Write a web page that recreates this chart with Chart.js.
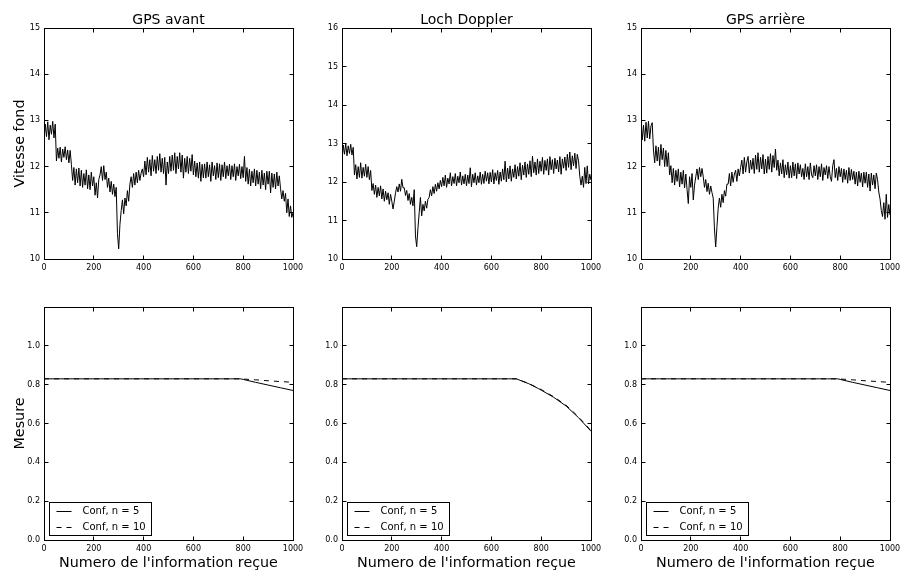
<!DOCTYPE html>
<html>
<head>
<meta charset="utf-8">
<script src="https://cdn.jsdelivr.net/npm/chart.js@4.4.1/dist/chart.umd.min.js"></script>
<style>
  html, body { margin: 0; padding: 0; background: #fff; }
  #wrap { position: relative; width: 906px; height: 571px; overflow: hidden; }
  canvas { position: absolute; }
</style>
</head>
<body>
<div id="wrap">
  <canvas id="top0"></canvas>
  <canvas id="top1"></canvas>
  <canvas id="top2"></canvas>
  <canvas id="bot0"></canvas>
  <canvas id="bot1"></canvas>
  <canvas id="bot2"></canvas>
</div>
<script>
// Titles & axis labels
const panelTitles = ["GPS avant", "Loch Doppler", "GPS arrière"];
const speedLabel = "Vitesse fond";
const mesureLabel = "Mesure";
const xLabel = "Numero de l'information reçue";
const confLabels = ["Conf, n = 5", "Conf, n = 10"];

// Tick values
const xTicks = [0, 200, 400, 600, 800, 1000];
const speedTicksGps = [10, 11, 12, 13, 14, 15];
const speedTicksLoch = [10, 11, 12, 13, 14, 15, 16];
const mesureTicks = [0.0, 0.2, 0.4, 0.6, 0.8, 1.0];

// Speed samples, one every 5 messages (0..1000)
const sampleIdx = Array.from({ length: 201 }, (_, i) => i * 5);

const speedAvant = [
  12.60, 12.92, 12.65, 12.97, 12.58, 12.90, 12.70, 12.98, 12.62, 12.92,
  12.12, 12.40, 12.18, 12.42, 12.10, 12.38, 12.20, 12.43, 12.15, 12.36,
  12.08, 12.35, 12.05, 11.70, 11.98, 11.60, 11.95, 11.65, 11.97, 11.58,
  11.92, 11.55, 11.85, 11.60, 11.93, 11.52, 11.82, 11.50, 11.88, 11.58,
  11.78, 11.38, 11.65, 11.32, 11.72, 11.82, 12.00, 11.70, 12.02, 11.72,
  11.88, 11.55, 11.75, 11.45, 11.68, 11.40, 11.62, 11.35, 11.55, 10.55,
  10.22, 10.75, 11.05, 11.28, 10.98, 11.32, 11.15, 11.48, 11.25, 11.62,
  11.78, 11.55, 11.85, 11.60, 11.88, 11.65, 11.92, 11.70, 11.86, 11.95,
  11.78, 12.12, 11.82, 12.20, 11.88, 12.15, 11.80, 12.24, 11.90, 12.15,
  11.85, 12.22, 11.92, 12.28, 11.88, 12.18, 11.85, 12.20, 11.60, 12.10,
  11.85, 12.22, 11.90, 12.25, 11.92, 12.30, 11.85, 12.22, 11.95, 12.30,
  11.88, 12.25, 11.75, 12.18, 11.88, 12.22, 11.85, 12.18, 11.90, 12.26,
  11.82, 12.12, 11.78, 12.08, 11.75, 12.10, 11.68, 12.05, 11.76, 12.06,
  11.75, 12.10, 11.78, 12.04, 11.68, 12.10, 11.80, 12.02, 11.72, 12.08,
  11.76, 12.06, 11.70, 12.04, 11.78, 12.10, 11.74, 12.02, 11.80, 12.05,
  11.72, 12.02, 11.78, 12.06, 11.70, 12.00, 11.80, 12.05, 11.74, 12.00,
  11.76, 12.22, 11.68, 11.98, 11.62, 11.94, 11.58, 11.90, 11.65, 11.95,
  11.58, 11.92, 11.62, 11.88, 11.52, 11.92, 11.60, 11.86, 11.50, 11.90,
  11.62, 11.90, 11.43, 11.86, 11.55, 11.84, 11.52, 11.88, 11.58, 11.80,
  11.52, 11.30, 11.48, 11.25, 11.42, 11.00, 11.30, 10.92, 11.15, 10.90,
  11.00
];

const speedLoch = [
  12.55, 12.96, 12.72, 13.00, 12.68, 12.94, 12.74, 12.98, 12.70, 12.90,
  12.18, 12.45, 12.08, 12.40, 12.12, 12.50, 12.10, 12.38, 12.15, 12.46,
  12.12, 12.40, 12.06, 12.30, 11.78, 11.96, 11.68, 11.92, 11.60, 11.86,
  11.64, 11.90, 11.56, 11.82, 11.50, 11.76, 11.54, 11.72, 11.42, 11.68,
  11.50, 11.30, 11.50, 11.72, 11.88, 11.74, 11.95, 11.76, 12.07, 11.85,
  11.85, 11.65, 11.78, 11.52, 11.70, 11.42, 11.60, 11.38, 11.80, 10.60,
  10.32, 10.80, 11.20, 11.60, 11.12, 11.42, 11.25, 11.50, 11.32, 11.55,
  11.60, 11.80, 11.64, 11.88, 11.70, 11.94, 11.76, 11.98, 11.82, 12.04,
  11.88, 12.12, 11.90, 12.18, 11.86, 12.10, 11.95, 12.24, 11.90, 12.14,
  11.96, 12.22, 11.90, 12.15, 11.98, 12.26, 11.92, 12.16, 11.95, 12.20,
  11.90, 12.18, 11.96, 12.37, 11.88, 12.20, 11.98, 12.24, 11.92, 12.16,
  11.98, 12.26, 11.94, 12.20, 11.96, 12.28, 12.02, 12.24, 11.95, 12.25,
  12.00, 12.32, 11.95, 12.24, 12.04, 12.30, 11.94, 12.26, 12.02, 12.34,
  12.06, 12.54, 12.00, 12.36, 12.08, 12.42, 12.02, 12.34, 12.12, 12.45,
  12.08, 12.40, 12.15, 12.50, 12.06, 12.44, 12.18, 12.52, 12.12, 12.47,
  12.20, 12.55, 12.14, 12.67, 12.24, 12.52, 12.18, 12.60, 12.22, 12.54,
  12.28, 12.64, 12.20, 12.56, 12.30, 12.60, 12.18, 12.66, 12.32, 12.58,
  12.22, 12.62, 12.34, 12.57, 12.26, 12.66, 12.20, 12.60, 12.36, 12.65,
  12.30, 12.72, 12.38, 12.78, 12.32, 12.68, 12.42, 12.75, 12.35, 12.72,
  12.55, 12.15, 11.92, 12.15, 11.86, 12.38, 11.96, 12.42, 11.95, 12.20,
  12.05
];

const speedArriere = [
  13.00, 12.58, 12.90, 12.55, 12.96, 12.62, 12.98, 12.60, 12.88, 12.95,
  12.36, 12.08, 12.45, 12.12, 12.42, 12.02, 12.48, 12.15, 12.40, 12.00,
  12.35, 12.00, 12.30, 11.82, 12.02, 11.65, 11.96, 11.60, 11.92, 11.68,
  11.95, 11.56, 11.88, 11.62, 11.92, 11.54, 11.84, 11.50, 11.20, 11.78,
  11.55, 11.85, 11.28, 11.60, 11.78, 11.95, 11.72, 11.98, 11.78, 11.96,
  11.78, 11.55, 11.72, 11.46, 11.64, 11.40, 11.58, 11.44, 11.32, 10.65,
  10.26, 10.70, 11.10, 11.32, 11.12, 11.40, 11.22, 11.48, 11.36, 11.62,
  11.62, 11.85, 11.58, 11.88, 11.66, 11.84, 11.92, 11.68, 11.95, 11.80,
  11.98, 12.14, 11.84, 12.20, 11.88, 12.10, 12.22, 11.86, 12.14, 11.94,
  12.18, 11.85, 12.25, 11.94, 12.30, 11.88, 12.20, 11.95, 12.26, 11.84,
  12.16, 11.86, 12.22, 11.94, 12.28, 11.88, 12.24, 11.98, 12.38, 11.92,
  12.14, 11.80, 12.08, 11.84, 12.15, 11.76, 12.04, 11.82, 12.10, 11.75,
  12.02, 11.76, 12.10, 11.80, 12.06, 11.74, 12.08, 11.84, 12.04, 11.78,
  11.96, 11.72, 12.06, 11.78, 12.00, 11.72, 12.08, 11.82, 11.76, 12.02,
  11.80, 12.04, 11.72, 12.00, 11.78, 12.06, 11.70, 11.98, 11.82, 12.02,
  11.74, 12.00, 11.78, 11.68, 12.02, 12.15, 11.76, 11.96, 11.70, 12.00,
  11.78, 11.96, 11.66, 11.95, 11.72, 11.92, 11.64, 11.98, 11.70, 11.94,
  11.72, 11.90, 11.62, 11.88, 11.58, 11.90, 11.66, 11.86, 11.56, 11.88,
  11.64, 11.88, 11.55, 11.84, 11.47, 11.86, 11.60, 11.82, 11.52, 11.86,
  11.72, 11.45, 11.30, 11.05, 10.92, 11.22, 10.86, 11.40, 10.90, 11.18,
  10.95
];

// Confidence curves
const confIdx = [0, 700, 750, 790, 800, 850, 900, 950, 1000];
const confAvant5 = [0.83, 0.83, 0.83, 0.83, 0.827, 0.812, 0.798, 0.784, 0.77];
const confAvant10 = [0.83, 0.83, 0.83, 0.83, 0.829, 0.825, 0.82, 0.816, 0.812];
const confLoch5 = [0.83, 0.83, 0.805, 0.779, 0.772, 0.735, 0.69, 0.63, 0.56];
const confLoch10 = [0.83, 0.83, 0.806, 0.781, 0.775, 0.738, 0.694, 0.634, 0.563];
const confArriere5 = [0.83, 0.83, 0.83, 0.83, 0.827, 0.812, 0.798, 0.784, 0.77];
const confArriere10 = [0.83, 0.83, 0.83, 0.83, 0.829, 0.825, 0.82, 0.816, 0.812];

Chart.defaults.font.family = '"DejaVu Sans", sans-serif';
Chart.defaults.color = "#000";

const toPoints = (xs, ys) => xs.map((x, i) => ({ x: x, y: ys[i] }));

// box with inward ticks on all four sides, like the old matplotlib look
const framePlugin = {
  id: "frame",
  afterDraw(chart) {
    const { ctx, chartArea: a, scales } = chart;
    const l = Math.floor(a.left) + 0.5, r = Math.floor(a.right) + 0.5;
    const t = Math.floor(a.top) + 0.5, b = Math.floor(a.bottom) + 0.5;
    ctx.save();
    ctx.strokeStyle = "#000";
    ctx.lineWidth = 1;
    ctx.strokeRect(l, t, r - l, b - t);
    ctx.beginPath();
    scales.x.ticks.forEach((tk) => {
      const px = Math.floor(scales.x.getPixelForValue(tk.value)) + 0.5;
      ctx.moveTo(px, b); ctx.lineTo(px, b - 4);
      ctx.moveTo(px, t); ctx.lineTo(px, t + 4);
    });
    scales.y.ticks.forEach((tk) => {
      const py = Math.floor(scales.y.getPixelForValue(tk.value)) + 0.5;
      ctx.moveTo(l, py); ctx.lineTo(l + 4, py);
      ctx.moveTo(r, py); ctx.lineTo(r - 4, py);
    });
    ctx.stroke();
    ctx.restore();
  },
};

// framed legend in the lower left corner
const boxLegendPlugin = {
  id: "boxLegend",
  afterDraw(chart) {
    const opts = chart.options.plugins.boxLegend;
    if (!opts || !opts.show) return;
    const { ctx, chartArea: a } = chart;
    const sets = chart.data.datasets;
    ctx.save();
    ctx.font = '10px "DejaVu Sans"';
    const textW = Math.max(...sets.map((d) => ctx.measureText(d.label).width));
    const left = Math.floor(a.left) + 5.5;
    const h = 33;
    const top = Math.floor(a.bottom) - 4.5 - h;
    const w = Math.round(33 + textW + 6);
    ctx.fillStyle = "#fff";
    ctx.fillRect(left, top, w, h);
    ctx.strokeStyle = "#000";
    ctx.lineWidth = 1;
    ctx.strokeRect(left, top, w, h);
    sets.forEach((d, i) => {
      const cy = Math.round(top + 8.5 + i * 15.7) + 0.5;
      ctx.beginPath();
      ctx.setLineDash(d.borderDash || []);
      ctx.moveTo(left + 7, cy);
      ctx.lineTo(left + 22, cy);
      ctx.stroke();
      ctx.setLineDash([]);
      ctx.fillStyle = "#000";
      ctx.textBaseline = "middle";
      ctx.fillText(d.label, left + 33, cy);
    });
    ctx.restore();
  },
};

const cols = [
  { L: 44, R: 293 },
  { L: 342, R: 591 },
  { L: 641, R: 890 },
];
const yAxisW = 44;
const rightPad = 16;

function makePanel(id, opts) {
  const col = cols[opts.col];
  const canvas = document.getElementById(id);
  const w = yAxisW + (col.R - col.L) + rightPad;
  canvas.width = w;
  canvas.height = opts.height;
  canvas.style.left = col.L - yAxisW + "px";
  canvas.style.top = opts.top + "px";
  canvas.style.width = w + "px";
  canvas.style.height = opts.height + "px";

  new Chart(canvas, {
    type: "line",
    data: { datasets: opts.datasets },
    options: {
      responsive: false,
      animation: false,
      devicePixelRatio: 1,
      layout: { padding: { top: opts.padTop, right: rightPad, left: 0, bottom: 0 } },
      elements: { point: { radius: 0 }, line: { tension: 0 } },
      plugins: {
        legend: { display: false },
        tooltip: { enabled: false },
        title: {
          display: !!opts.title,
          text: opts.title || "",
          fullSize: false,
          font: { size: 14, weight: "normal", lineHeight: 1 },
          padding: { top: 13, bottom: 1 },
        },
        boxLegend: { show: !!opts.legend },
      },
      scales: {
        x: {
          type: "linear",
          min: 0,
          max: 1000,
          grid: { display: false, drawTicks: false },
          border: { display: false },
          afterBuildTicks: (s) => { s.ticks = xTicks.map((v) => ({ value: v })); },
          ticks: { font: { size: 8 }, padding: 4, maxRotation: 0, callback: (v) => String(v) },
          title: {
            display: !!opts.xTitle,
            text: opts.xTitle || "",
            font: { size: 14.3, lineHeight: 1 },
            padding: { top: 0, bottom: 1 },
          },
          afterFit: (s) => {
            s.height = opts.xAxisH;
            s.paddingLeft = 0;
            s.paddingRight = 0;
          },
        },
        y: {
          min: opts.yMin,
          max: opts.yMax,
          grid: { display: false, drawTicks: false },
          border: { display: false },
          afterBuildTicks: (s) => { s.ticks = opts.yTicks.map((v) => ({ value: v })); },
          ticks: {
            font: { size: 8 },
            padding: 4,
            callback: (v) => (opts.yDigits ? v.toFixed(opts.yDigits) : String(v)),
          },
          title: {
            display: !!opts.yTitle,
            text: opts.yTitle || "",
            font: { size: 14.3, lineHeight: 1 },
            padding: { top: 13, bottom: 0 },
          },
          afterFit: (s) => {
            s.width = yAxisW;
            s.paddingTop = 0;
            s.paddingBottom = 0;
          },
        },
      },
    },
    plugins: [framePlugin, boxLegendPlugin],
  });
}

function speedSet(values) {
  return [{ label: "speed", data: toPoints(sampleIdx, values), borderColor: "#000", borderWidth: 1 }];
}

function confSets(v5, v10) {
  return [
    { label: confLabels[0], data: toPoints(confIdx, v5), borderColor: "#000", borderWidth: 1 },
    { label: confLabels[1], data: toPoints(confIdx, v10), borderColor: "#000", borderWidth: 1, borderDash: [5, 5] },
  ];
}

const speedSeries = [speedAvant, speedLoch, speedArriere];
const confSeries = [
  [confAvant5, confAvant10],
  [confLoch5, confLoch10],
  [confArriere5, confArriere10],
];

for (let c = 0; c < 3; c++) {
  makePanel("top" + c, {
    col: c,
    top: 0,
    height: 281,
    padTop: 0,
    xAxisH: 22,
    title: panelTitles[c],
    yTitle: c === 0 ? speedLabel : "",
    yMin: 10,
    yMax: c === 1 ? 16 : 15,
    yTicks: c === 1 ? speedTicksLoch : speedTicksGps,
    datasets: speedSet(speedSeries[c]),
  });
  makePanel("bot" + c, {
    col: c,
    top: 287,
    height: 284,
    padTop: 20,
    xAxisH: 31,
    xTitle: xLabel,
    yTitle: c === 0 ? mesureLabel : "",
    yMin: 0,
    yMax: 1.2,
    yTicks: mesureTicks,
    yDigits: 1,
    legend: true,
    datasets: confSets(confSeries[c][0], confSeries[c][1]),
  });
}
</script>
</body>
</html>
